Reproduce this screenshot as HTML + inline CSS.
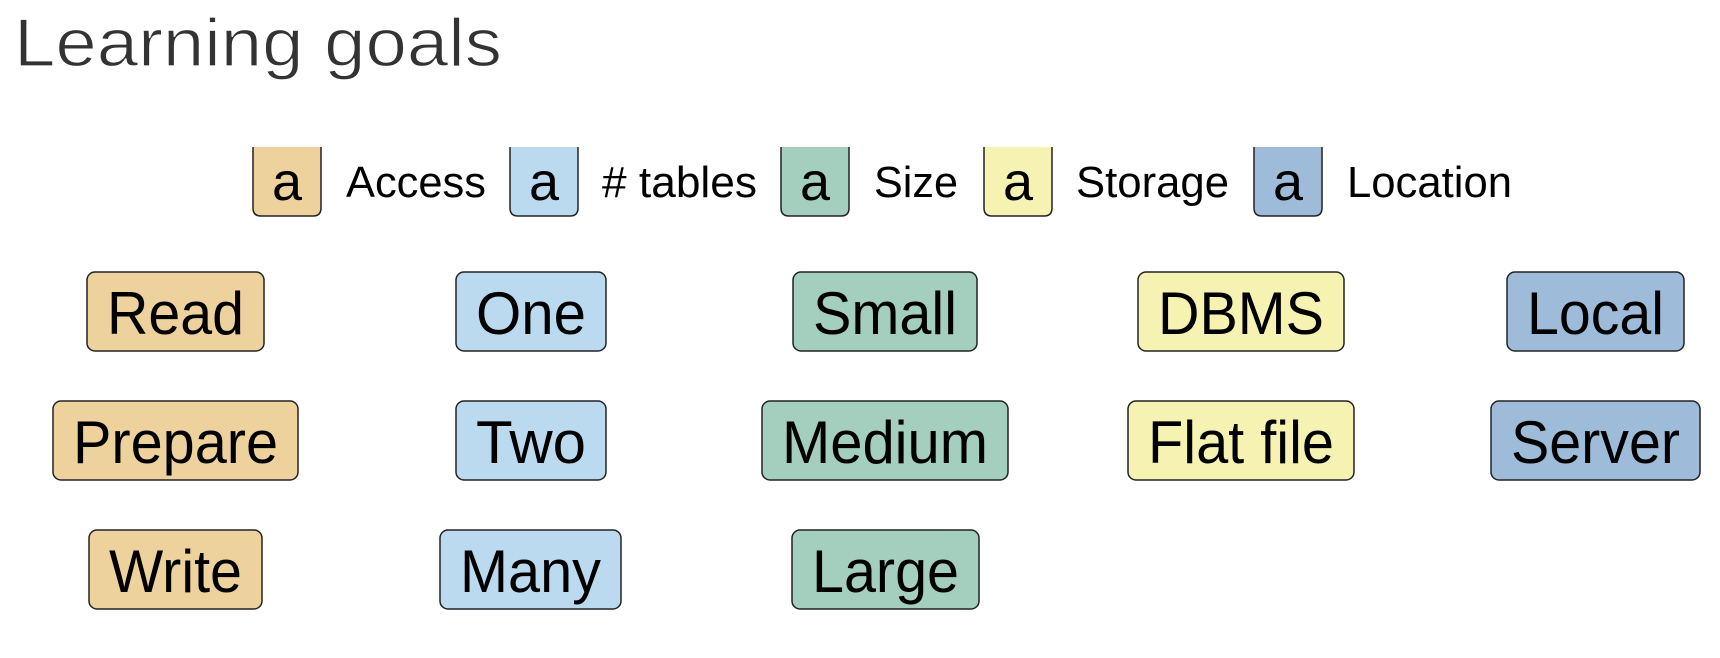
<!DOCTYPE html>
<html><head><meta charset="utf-8">
<style>
body{margin:0;width:1720px;height:658px;background:#fff;overflow:hidden;font-family:"Liberation Sans",Arial,sans-serif}
svg{display:block}
</style></head>
<body>
<svg width="1720" height="658" viewBox="0 0 1720 658">
  <text x="14" y="66" font-size="68" fill="#333" stroke="#fff" stroke-width="1.2" paint-order="normal" font-family="Liberation Sans, sans-serif" textLength="488" lengthAdjust="spacingAndGlyphs">Learning goals</text>
  <g id="legend"></g>
  <g id="boxes"></g>
</svg>
<script>
const categories = ["access","tables","size","storage","location"];
const categoryLabels = ["Access","# tables","Size","Storage","Location"];
const colors = {access:"#eed29e",tables:"#bbdaf0",size:"#a4cfbe",storage:"#f6f2b2",location:"#9ebcd9"};
const legendBoxX = [253,510,781,984,1254];
const legendTextX = [346,602,874,1076,1347];
const legendTextW = [140,155,84,153,165];
const itemLabels = [["Read","Prepare","Write"],["One","Two","Many"],["Small","Medium","Large"],["DBMS","Flat file"],["Local","Server"]];
const itemBoxes = [
 [[87,264],[53,298],[89,262]],
 [[456,606],[456,606],[440,621]],
 [[793,977],[762,1008],[792,979]],
 [[1138,1344],[1128,1354]],
 [[1507,1684],[1491,1700]]
];
const rowY = [272,401,530];
const NS="http://www.w3.org/2000/svg";
function mk(tag,attrs,parent){const e=document.createElementNS(NS,tag);for(const k in attrs)e.setAttribute(k,attrs[k]);parent.appendChild(e);return e;}
const lg=document.getElementById('legend');
categories.forEach((c,i)=>{
  const x=legendBoxX[i];
  const p=mk('path',{d:`M${x} 147 V208 Q${x} 216 ${x+8} 216 H${x+60} Q${x+68} 216 ${x+68} 208 V147`,fill:colors[c],stroke:"#222","stroke-width":"1.5"},lg);
  
  
  const t=mk('text',{x:x+34,y:200,"font-size":"54","text-anchor":"middle",fill:"#000"},lg);
  t.textContent="a";
  
  
  const l=mk('text',{x:legendTextX[i],y:197,"font-size":"44",fill:"#000",textLength:legendTextW[i],lengthAdjust:"spacingAndGlyphs"},lg);
  l.textContent=categoryLabels[i];
  
  
});
const bx=document.getElementById('boxes');
categories.forEach((c,i)=>{
  itemLabels[i].forEach((lab,j)=>{
    const [x0,x1]=itemBoxes[i][j];const y=rowY[j];
    const g=mk('g',{},bx);
    
    
    mk('rect',{x:x0,y:y,width:x1-x0,height:79,rx:8,fill:colors[c],stroke:"#222","stroke-width":"1.5"},g);
    const t=mk('text',{x:(x0+x1)/2,y:y+62,"font-size":"60","text-anchor":"middle",fill:"#000",textLength:(x1-x0)-40,lengthAdjust:"spacingAndGlyphs"},g);
    t.textContent=lab;
  });
});
</script>
</body></html>
